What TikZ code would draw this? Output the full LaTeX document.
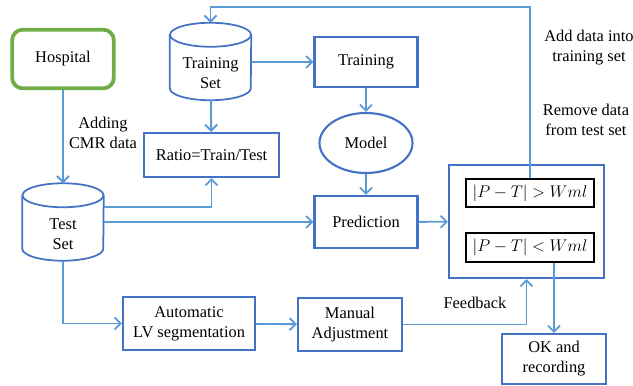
\documentclass[tikz,border=0pt]{standalone}
\usepackage{fontspec}
\setmainfont{Liberation Serif}
\usetikzlibrary{shapes.geometric,arrows.meta}

\definecolor{boxblue}{RGB}{68,114,196}
\definecolor{lineblue}{RGB}{91,155,213}
\definecolor{hospgreen}{RGB}{112,173,71}

\tikzset{
  box/.style={draw=boxblue,line width=1.8pt,align=center,inner sep=2pt},
  cylbody/.style={align=center,inner sep=0pt,minimum width=2.43cm,minimum height=1.59cm},
  cylline/.style={draw=boxblue,line width=1.5pt},
  arrow/.style={draw=lineblue,line width=1.6pt,-{Straight Barb[length=1.8mm,width=3.6mm]}}
}

\begin{document}
\begin{tikzpicture}[x=0.03cm,y=-0.03cm,font=\fontsize{14}{17}\selectfont]

\useasboundingbox (0,0) rectangle (633,386);

\node[draw=hospgreen,line width=3.2pt,rounded corners=9pt,minimum width=3.05cm,minimum height=1.76cm] (hosp) at (63,59) {Hospital};

% data sets (cylinders drawn round the text)
\node[cylbody] (trainset) at (210.5,73.5) {Training\\Set};
\node[cylbody] (testset) at (63,234) {Test\\Set};
\foreach \c in {trainset,testset} {
  \draw[cylline] ([yshift=0.36cm]\c.north) ellipse [x radius=1.215cm,y radius=0.36cm];
  \draw[cylline] ([yshift=0.36cm]\c.north west) -- ([yshift=0.36cm]\c.south west)
    arc [start angle=180,end angle=360,x radius=1.215cm,y radius=0.36cm] -- ([yshift=0.36cm]\c.north east);
}
\coordinate (trainsettop) at ([yshift=0.72cm]trainset.north);
\coordinate (testsettop) at ([yshift=0.72cm]testset.north);

\node[box,minimum width=3.09cm,minimum height=1.5cm] (train) at (366,62) {Training};
\node[box,ellipse,minimum width=2.79cm,minimum height=1.8cm] (model) at (366,143) {Model};
\node[box,minimum width=4.05cm,minimum height=1.32cm] (ratio) at (211.5,155) {Ratio=Train/Test};
\node[box,minimum width=3.09cm,minimum height=1.56cm] (pred) at (366,222) {Prediction};

\node[box,minimum width=4.65cm,minimum height=3.39cm] (judge) at (526.5,221.5) {};
\node[draw=black,line width=1.4pt,minimum width=3.84cm,minimum height=0.84cm] (gt) at (530,193) {$|P-T|>Wml$};
\node[draw=black,line width=1.4pt,minimum width=3.84cm,minimum height=0.87cm] (lt) at (530,247.5) {$|P-T|<Wml$};

\node[box,minimum width=3.96cm,minimum height=1.59cm] (auto) at (189,323.5) {Automatic\\LV segmentation};
\node[box,minimum width=3.12cm,minimum height=1.59cm] (manual) at (350,324.5) {Manual\\Adjustment};
\node[box,minimum width=3.12cm,minimum height=1.5cm] (ok) at (554,359) {OK and\\recording};

\node[align=center] (addlbl) at (103,133) {Adding\\CMR data};
\node[align=center] (addtrain) at (589,48) {Add data into\\training set};
\node[align=center] (remtest) at (586,120) {Remove data\\from test set};
\node (fblbl) at (475,303) {Feedback};

\coordinate (loop) at (530,7);

\draw[arrow] (hosp) -- (testsettop);
\draw[arrow] (trainset) -- (ratio);
\draw[arrow] (trainset.east |- train.west) -- (train.west);
\draw[arrow] (train) -- (model);
\draw[arrow] (model) -- (pred);
\draw[arrow] ([yshift=0.81cm]testset.east) -| (ratio.south);
\draw[arrow] (testset.east |- pred.west) -- (pred.west);
\draw[arrow] (testset.south) |- (auto.west);
\draw[arrow] (auto) -- (manual);
\draw[arrow] (manual.east) -| (judge.south);
\draw[arrow] (pred) -- (judge);
\draw[arrow] (gt.north) -- (loop) -| (trainsettop);
\draw[arrow] (lt.south -| ok.north) -- (ok.north);

\end{tikzpicture}
\end{document}
